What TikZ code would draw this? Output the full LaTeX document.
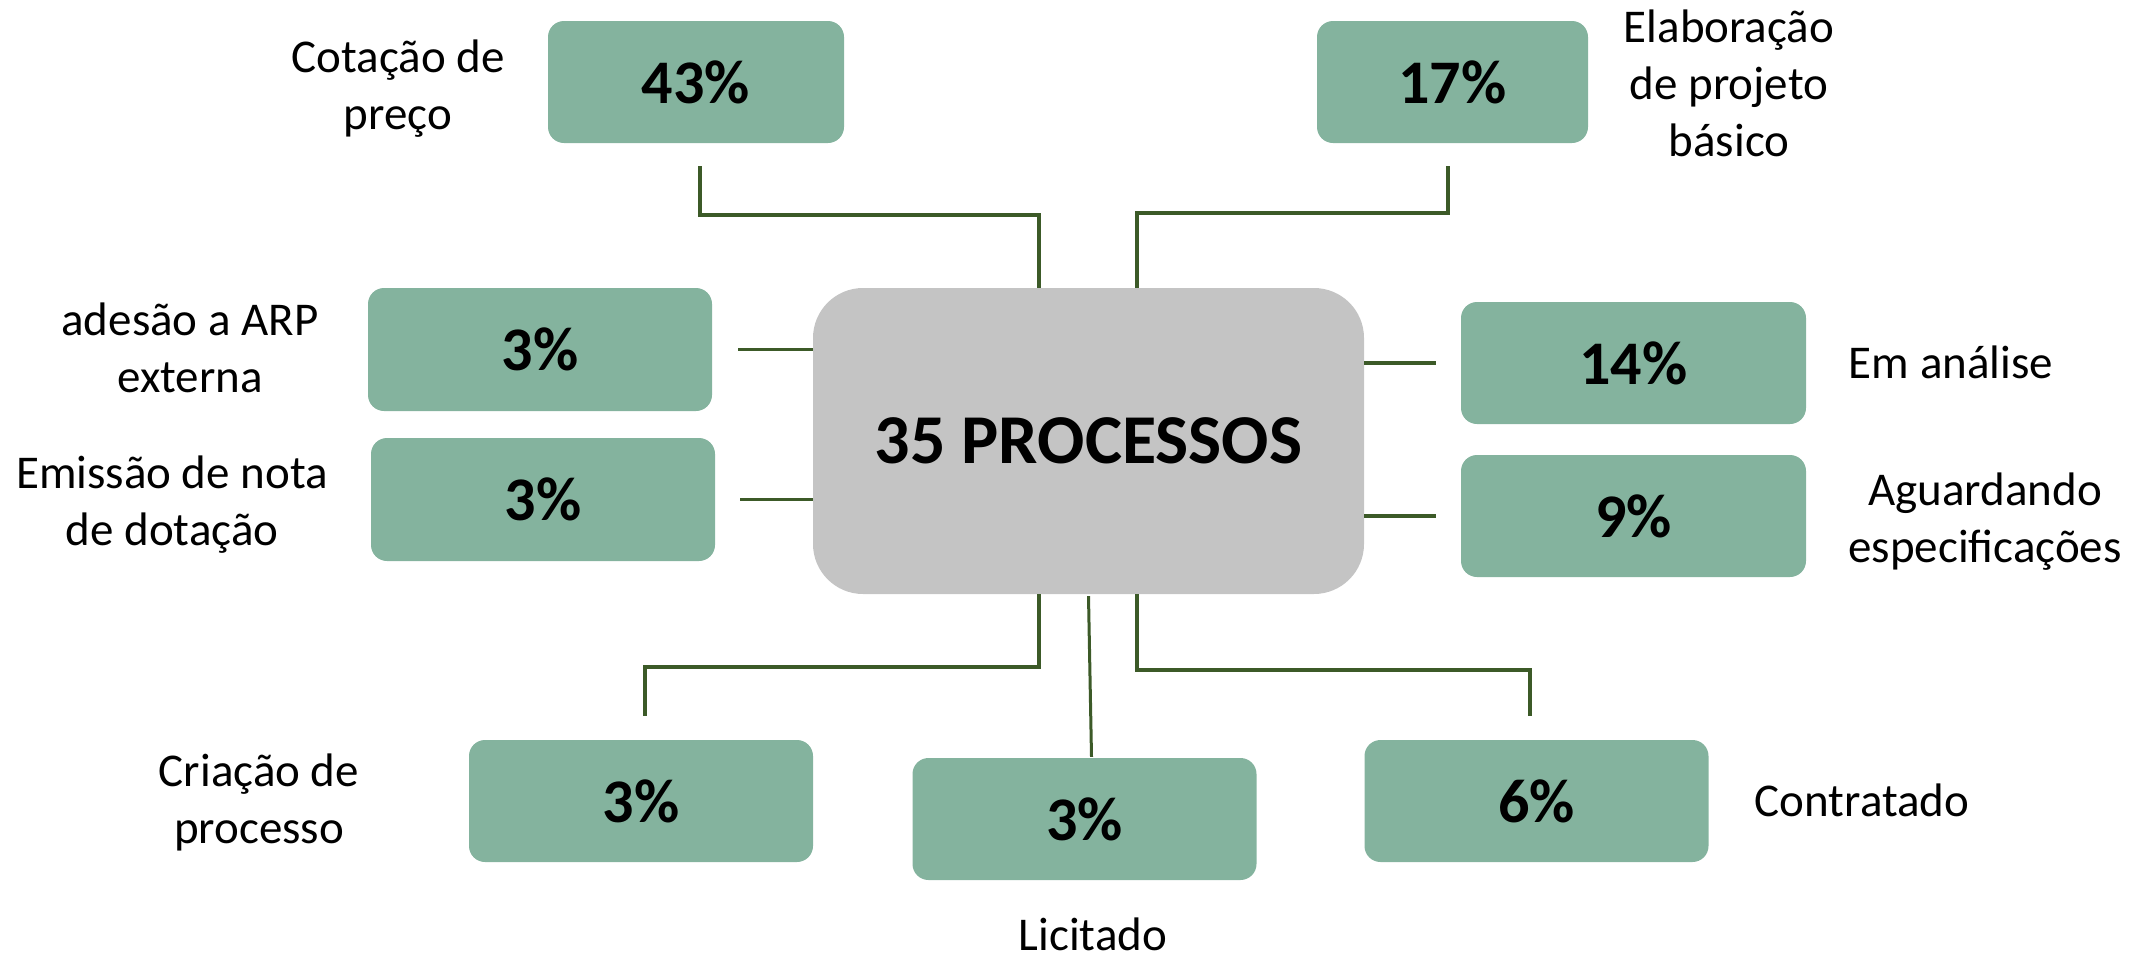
\documentclass[tikz,border=0pt]{standalone}
\usepackage{fontspec}
\setmainfont{Carlito}
\usetikzlibrary{calc}
\definecolor{boxgreen}{RGB}{132,179,158}
\definecolor{linegreen}{RGB}{60,90,40}
\definecolor{centergray}{RGB}{196,196,196}
\begin{document}
\begin{tikzpicture}[x=1pt,y=-1pt,
  pbox/.style={rectangle, rounded corners=16pt, fill=boxgreen, inner sep=0pt,
    minimum width=344pt, minimum height=122pt, font=\fontsize{62}{74}\selectfont\bfseries},
  lbl/.style={anchor=north, align=center, inner sep=0pt, font=\fontsize{47}{57}\selectfont},
  lbl1/.style={anchor=base, inner sep=0pt, font=\fontsize{47}{57}\selectfont},
  conn/.style={draw=linegreen, line width=3.5pt}]
\useasboundingbox (0,0) rectangle (2148,956);

\node[rectangle, rounded corners=50pt, fill=centergray, minimum width=551pt, minimum height=306pt,
  inner sep=0pt, font=\fontsize{70}{84}\selectfont\bfseries] (ctr) at (1088.5,441) {35 PROCESSOS};

\node[pbox, minimum width=296pt] (p43) at (696,82) {43\%};
\node[pbox, minimum width=271pt] (p17) at (1452.5,82) {17\%};
\node[pbox, minimum height=123pt] (pA) at (540,349.5) {3\%};
\node[pbox, minimum height=123pt] (pE) at (543,499.5) {3\%};
\node[pbox, minimum width=345pt] (p14) at (1633.5,363) {14\%};
\node[pbox, minimum width=345pt] (p9) at (1633.5,516) {9\%};
\node[pbox] (pC) at (641,801) {3\%};
\node[pbox] (pL) at (1084.5,819) {3\%};
\node[pbox] (p6) at (1536.5,801) {6\%};

\draw[conn] ([xshift=4pt,yshift=-23pt]p43.south) |- ([xshift=-49.5pt,yshift=73pt]ctr.north) -- ([xshift=-49.5pt]ctr.north);
\draw[conn] ([xshift=-4.5pt,yshift=-23pt]p17.south) |- ([xshift=48.5pt,yshift=75pt]ctr.north) -- ([xshift=48.5pt]ctr.north);
\draw[conn, shorten >=26pt] (ctr.west |- pA.east) -- (pA.east);
\draw[conn, shorten >=25pt] (ctr.west |- pE.east) -- (pE.east);
\draw[conn, shorten >=25pt] (ctr.east |- p14.west) -- (p14.west);
\draw[conn, shorten >=25pt] (ctr.east |- p9.west) -- (p9.west);
\draw[conn] ([xshift=-49.5pt]ctr.south) |- ([xshift=4pt,yshift=73pt]pC.north) -- ([xshift=4pt,yshift=24pt]pC.north);
\draw[conn] ([xshift=48.5pt]ctr.south) |- ([xshift=-6.5pt,yshift=70pt]p6.north) -- ([xshift=-6.5pt,yshift=24pt]p6.north);
\draw[conn, line width=3pt] ([yshift=-2pt]ctr.south) -- ([xshift=7pt,yshift=1pt]pL.north);

\node[lbl] (tCot) at (398,32) {\strut Cotação de\\preço\strut};
\node[lbl] (tEla) at (1729,2) {\strut Elaboração\\de projeto\\básico\strut};
\node[lbl] (tAde) at (190,295) {\strut adesão a ARP\\externa\strut};
\node[lbl] (tEmi) at (172,448) {\strut Emissão de nota\\de dotação\strut};
\node[lbl1] (tEm) at (1951,378) {Em análise};
\node[lbl] (tAgu) at (1985,465) {\strut Aguardando\\especificações\strut};
\node[lbl] (tCri) at (259,746) {\strut Criação de\\processo\strut};
\node[lbl1] (tLic) at (1093,950) {Licitado};
\node[lbl1] (tCon) at (1862,816) {Contratado};
\end{tikzpicture}
\end{document}
